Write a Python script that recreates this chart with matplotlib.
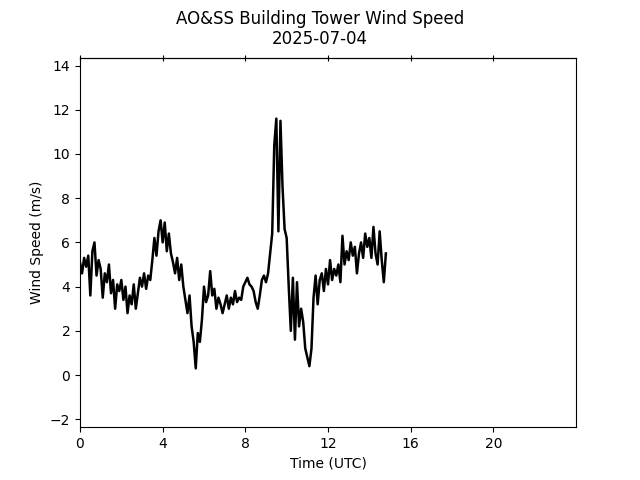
import numpy as np
import matplotlib
matplotlib.use("Agg")
import matplotlib.pyplot as plt

# wind speed (m/s), one reading every 0.1 h from 00:00 to 14:48 UTC
hours = np.arange(0, 14.85, 0.1)
speed = [
    5.1, 4.6, 5.3, 4.9, 5.4, 3.6, 5.6, 6.0, 4.5, 5.2,
    4.8, 3.5, 4.6, 4.2, 5.0, 3.7, 4.3, 3.0, 4.1, 3.8,
    4.3, 3.4, 4.0, 2.8, 3.6, 3.2, 4.1, 3.0, 3.7, 4.4,
    4.0, 4.6, 3.9, 4.5, 4.3, 5.2, 6.2, 5.4, 6.5, 7.0,
    6.0, 6.9, 5.6, 6.4, 5.5, 5.1, 4.6, 5.3, 4.3, 5.0,
    4.0, 3.4, 2.8, 3.6, 2.2, 1.5, 0.3, 1.9, 1.5, 2.5,
    4.0, 3.3, 3.6, 4.7, 3.6, 3.9, 3.0, 3.5, 3.2, 2.8,
    3.2, 3.6, 3.0, 3.5, 3.2, 3.8, 3.3, 3.5, 3.4, 4.0,
    4.2, 4.4, 4.1, 4.0, 3.8, 3.3, 3.0, 3.6, 4.3, 4.5,
    4.2, 4.6, 5.5, 6.4, 10.4, 11.6, 6.5, 11.5, 8.5, 6.6,
    6.2, 4.0, 2.0, 4.4, 1.6, 4.2, 2.2, 3.0, 2.4, 1.2,
    0.8, 0.4, 1.2, 3.5, 4.5, 3.2, 4.3, 4.6, 3.8, 4.8,
    4.1, 5.2, 4.3, 4.8, 4.5, 5.0, 4.2, 6.3, 5.0, 5.6,
    5.2, 6.0, 5.4, 5.8, 4.6, 5.5, 6.0, 5.3, 6.4, 5.8,
    6.2, 5.3, 6.7, 5.5, 5.0, 6.5, 5.2, 4.2, 5.5,
]
hours = hours[:len(speed)]
xticks = [0, 4, 8, 12, 16, 20]

fig, ax = plt.subplots(figsize=(6.4, 4.8), dpi=100)
ax.plot(hours, speed, color='black', linewidth=1.8)

ax.set_xlim(0, 24)
ax.set_ylim(-2.36, 14.36)
ax.set_xticks(xticks)
ax.set_yticks(range(-2, 15, 2))
ax.set_xlabel('Time (UTC)')
ax.set_ylabel('Wind Speed (m/s)')

top = ax.secondary_xaxis('top')
top.set_xticks(xticks)
top.tick_params(direction='inout', length=4, labeltop=False)

fig.suptitle('AO&SS Building Tower Wind Speed\n2025-07-04')
fig.savefig('out.png')
